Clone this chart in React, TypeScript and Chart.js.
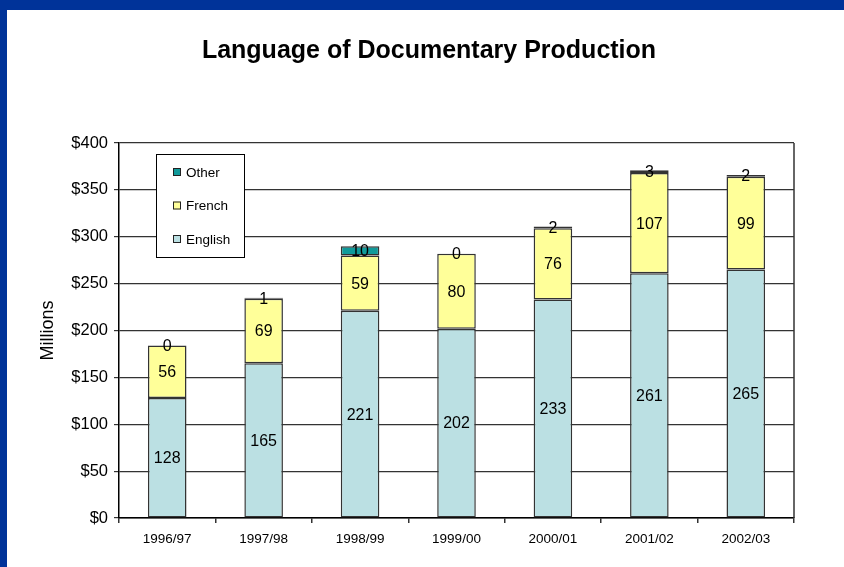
import React, { useEffect, useRef } from "react";
import { Chart, registerables } from "chart.js";

Chart.register(...registerables);

const title = "Language of Documentary Production";
const yTitle = "Millions";
const categories = ["1996/97", "1997/98", "1998/99", "1999/00", "2000/01", "2001/02", "2002/03"];
const english = [128, 165, 221, 202, 233, 261, 265];
const french = [56, 69, 59, 80, 76, 107, 99];
const other = [0, 1, 10, 0, 2, 3, 2];
const seriesNames = ["English", "French", "Other"];
const seriesColors = ["#BBE0E3", "#FFFF99", "#109A9A"];

const FONT = "'Liberation Sans', Arial, Helvetica, sans-serif";

const valueLabels = {
  id: "valueLabels",
  afterDatasetsDraw(chart: any) {
    const ctx = chart.ctx;
    ctx.save();
    ctx.font = `16px ${FONT}`;
    ctx.fillStyle = "#000";
    ctx.textAlign = "center";
    ctx.textBaseline = "middle";
    chart.data.datasets.forEach((ds: any, i: number) => {
      const meta = chart.getDatasetMeta(i);
      meta.data.forEach((el: any, j: number) => {
        const v = ds.data[j];
        const y = (el.y + el.base) / 2;
        ctx.fillText(String(v), el.x, y + 1);
      });
    });
    ctx.restore();
  },
};

const frameAndLegend = {
  id: "frameAndLegend",
  afterDraw(chart: any) {
    const ctx = chart.ctx;
    const a = chart.chartArea;
    ctx.save();
    // title
    ctx.font = `bold 25px ${FONT}`;
    ctx.fillStyle = "#000";
    ctx.textAlign = "center";
    ctx.textBaseline = "middle";
    ctx.fillText(title, 422, 41);
    // right border
    ctx.strokeStyle = "#333";
    ctx.lineWidth = 1.5;
    ctx.beginPath();
    ctx.moveTo(a.right, a.top);
    ctx.lineTo(a.right, a.bottom);
    ctx.stroke();
    // legend
    const lx = a.left + 37;
    const ly = a.top + 11;
    const lw = 88;
    const lh = 103;
    ctx.fillStyle = "#fff";
    ctx.fillRect(lx, ly, lw, lh);
    ctx.strokeStyle = "#000";
    ctx.lineWidth = 1;
    ctx.strokeRect(lx + 0.5, ly + 0.5, lw, lh);
    const ds = chart.data.datasets;
    ctx.font = `13.5px ${FONT}`;
    ctx.textBaseline = "middle";
    ctx.textAlign = "left";
    for (let k = 0; k < ds.length; k++) {
      const d = ds[ds.length - 1 - k];
      const cy = ly + 18 + k * 33.5;
      ctx.fillStyle = d.backgroundColor;
      ctx.fillRect(lx + 17, cy - 4, 8, 8);
      ctx.strokeStyle = "#222";
      ctx.lineWidth = 1;
      ctx.strokeRect(lx + 17.5, cy - 3.5, 7, 7);
      ctx.fillStyle = "#000";
      ctx.fillText(d.label, lx + 30, cy + 1);
    }
    ctx.restore();
  },
};

export default function App() {
  const ref = useRef<HTMLCanvasElement | null>(null);
  useEffect(() => {
    if (!ref.current) return;
    const series = [english, french, other];
    const chart = new Chart(ref.current, {
      type: "bar",
      data: {
        labels: categories,
        datasets: series.map((data, i) => ({
          label: seriesNames[i],
          data,
          backgroundColor: seriesColors[i],
          borderColor: "#333",
          borderWidth: 1.5,
          borderSkipped: false,
          barPercentage: 0.4,
          categoryPercentage: 1,
        })),
      },
      options: {
        animation: false,
        responsive: false,
        maintainAspectRatio: false,
        layout: { padding: { left: 0, right: 50, top: 133, bottom: 0 } },
        plugins: {
          legend: { display: false },
          tooltip: { enabled: false },
          title: { display: false },
        },
        scales: {
          x: {
            stacked: true,
            afterFit: (s: any) => {
              s.height = 49;
            },
            grid: {
              offset: true,
              drawOnChartArea: false,
              drawTicks: true,
              tickLength: 5,
              color: "#333",
              lineWidth: 1.5,
            },
            border: { color: "#000", width: 1.5 },
            ticks: {
              color: "#000",
              font: { family: FONT, size: 13.5 },
              padding: 8,
              maxRotation: 0,
            },
          },
          y: {
            stacked: true,
            min: 0,
            max: 400,
            afterFit: (s: any) => {
              s.width = 112;
            },
            ticks: {
              stepSize: 50,
              color: "#000",
              font: { family: FONT, size: 16.5 },
              padding: 6,
              callback: (v: any) => "$" + v,
            },
            grid: { color: "#333", lineWidth: 1.2, tickLength: 5 },
            border: { color: "#000", width: 1.5 },
            title: {
              display: true,
              text: yTitle,
              color: "#000",
              font: { family: FONT, size: 18 },
              padding: { top: 30, bottom: 0 },
            },
          },
        },
      },
      plugins: [valueLabels, frameAndLegend],
    });
    return () => chart.destroy();
  }, []);
  return (
    <div
      style={{
        position: "absolute",
        left: 0,
        top: 0,
        width: 844,
        height: 567,
        boxSizing: "border-box",
        borderTop: "10px solid #003399",
        borderLeft: "7px solid #003399",
        background: "#fff",
      }}
    >
      <canvas ref={ref} width={837} height={557} style={{ display: "block" }} />
    </div>
  );
}
